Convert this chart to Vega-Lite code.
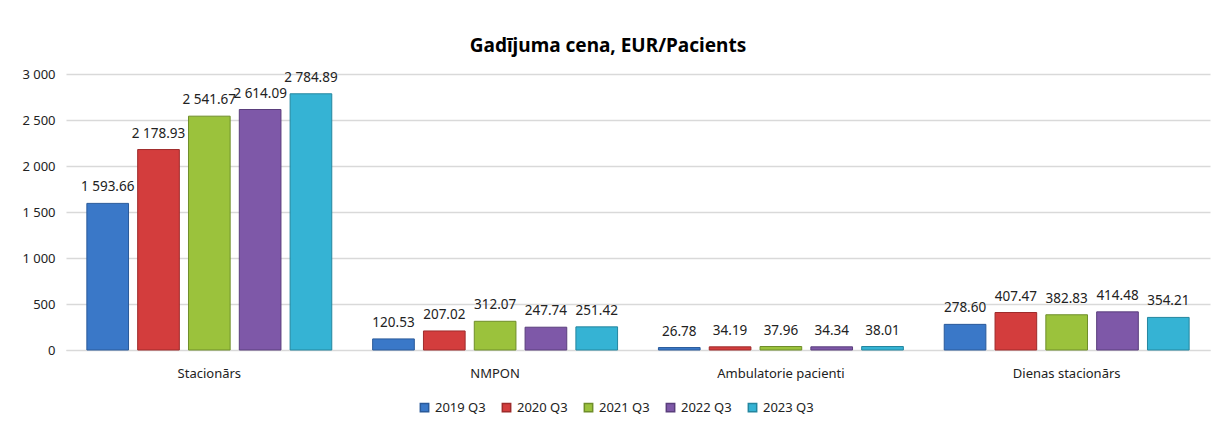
{
  "$schema": "https://vega.github.io/schema/vega-lite/v6.json",
  "autosize": "none",
  "width": 1144,
  "height": 276,
  "padding": {"left": 66, "top": 74, "right": 4, "bottom": 75},
  "background": "white",
  "config": {
    "font": "Noto Sans",
    "locale": {"number": {"decimal": ".", "thousands": " ", "grouping": [3], "currency": ["", ""]}},
    "view": {"stroke": null}
  },
  "title": {"text": "Gadījuma cena, EUR/Pacients", "fontSize": 19, "fontWeight": "bold", "color": "#000000", "offset": 12, "anchor": "middle", "dx": -30},
  "data": {
    "values": [
      {"cat": "Stacionārs", "period": "2019 Q3", "value": 1593.66},
      {"cat": "Stacionārs", "period": "2020 Q3", "value": 2178.93},
      {"cat": "Stacionārs", "period": "2021 Q3", "value": 2541.67},
      {"cat": "Stacionārs", "period": "2022 Q3", "value": 2614.09},
      {"cat": "Stacionārs", "period": "2023 Q3", "value": 2784.89},
      {"cat": "NMPON", "period": "2019 Q3", "value": 120.53},
      {"cat": "NMPON", "period": "2020 Q3", "value": 207.02},
      {"cat": "NMPON", "period": "2021 Q3", "value": 312.07},
      {"cat": "NMPON", "period": "2022 Q3", "value": 247.74},
      {"cat": "NMPON", "period": "2023 Q3", "value": 251.42},
      {"cat": "Ambulatorie pacienti", "period": "2019 Q3", "value": 26.78},
      {"cat": "Ambulatorie pacienti", "period": "2020 Q3", "value": 34.19},
      {"cat": "Ambulatorie pacienti", "period": "2021 Q3", "value": 37.96},
      {"cat": "Ambulatorie pacienti", "period": "2022 Q3", "value": 34.34},
      {"cat": "Ambulatorie pacienti", "period": "2023 Q3", "value": 38.01},
      {"cat": "Dienas stacionārs", "period": "2019 Q3", "value": 278.60},
      {"cat": "Dienas stacionārs", "period": "2020 Q3", "value": 407.47},
      {"cat": "Dienas stacionārs", "period": "2021 Q3", "value": 382.83},
      {"cat": "Dienas stacionārs", "period": "2022 Q3", "value": 414.48},
      {"cat": "Dienas stacionārs", "period": "2023 Q3", "value": 354.21}
    ]
  },
  "encoding": {
    "x": {
      "field": "cat", "type": "nominal", "sort": null,
      "scale": {"paddingInner": 0.143, "paddingOuter": 0.073},
      "axis": {"title": null, "labelAngle": 0, "ticks": false, "domain": true, "domainColor": "#d9d9d9", "labelFontSize": 13, "labelColor": "#222222", "labelPadding": 17}
    },
    "xOffset": {"field": "period", "type": "nominal", "scale": {"paddingInner": 0.18, "paddingOuter": 0}},
    "y": {
      "field": "value", "type": "quantitative",
      "scale": {"domain": [0, 3000], "nice": false},
      "axis": {"title": null, "values": [0, 500, 1000, 1500, 2000, 2500, 3000], "format": ",d", "ticks": false, "domain": false, "gridColor": "#d9d9d9", "gridWidth": 1.5, "labelFontSize": 13, "labelColor": "#222222", "labelPadding": 11}
    }
  },
  "layer": [
    {
      "mark": {"type": "bar", "strokeWidth": 1},
      "encoding": {
        "color": {
          "field": "period", "type": "nominal",
          "scale": {"domain": ["2019 Q3", "2020 Q3", "2021 Q3", "2022 Q3", "2023 Q3"], "range": ["#3a78c8", "#d33d3d", "#9bc23c", "#7e58a8", "#35b3d4"]},
          "legend": {"title": null, "orient": "none", "legendX": 352, "legendY": 327, "direction": "horizontal", "symbolType": "square", "symbolSize": 70, "labelFontSize": 13, "labelColor": "#222222", "columnPadding": 13, "labelOffset": 4}
        },
        "stroke": {
          "field": "period", "type": "nominal",
          "scale": {"domain": ["2019 Q3", "2020 Q3", "2021 Q3", "2022 Q3", "2023 Q3"], "range": ["#2a5a9a", "#9e2b2b", "#6f8e2a", "#5a3e7c", "#24869f"]},
          "legend": null
        }
      }
    },
    {
      "mark": {"type": "text", "baseline": "bottom", "dy": -9, "fontSize": 13.5, "color": "#222222"},
      "encoding": {
        "text": {"field": "value", "type": "quantitative", "format": ",.2f"}
      }
    }
  ]
}
